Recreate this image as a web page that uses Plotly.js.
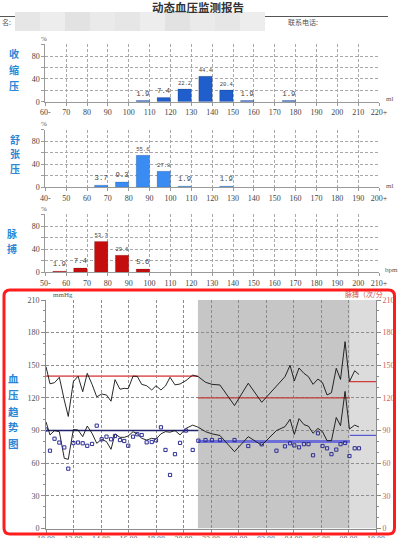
<!DOCTYPE html>
<html><head><meta charset="utf-8">
<script src="https://cdn.plot.ly/plotly-3.0.1.min.js"></script>
<style>html,body{margin:0;padding:0;background:#fff;}#chart{width:399px;height:538px;}</style>
</head><body><div id="chart"></div>
<script>
// ---------- DATA ----------
const sysTickLabels = ["60-","70","80","90","100","110","120","130","140","150","160","170","180","190","200","210","220+"];
const sysBinStarts = [100,110,120,130,140,150,170];
const sysPercent = [1.9,7.4,22.2,44.4,20.4,1.9,1.9];

const diaTickLabels = ["40-","50","60","70","80","90","100","110","120","130","140","150","160","170","180","190","200+"];
const diaBinStarts = [60,70,80,90,100,120];
const diaPercent = [3.7,9.3,55.6,27.8,1.9,1.9];

const hrTickLabels = ["50-","60","70","80","90","100","110","120","130","140","150","160","170","180","190","200","210+"];
const hrBinStarts = [50,60,70,80,90];
const hrPercent = [1.9,7.4,53.7,29.6,5.6];

const timeTickLabels = ["10:00","12:00","14:00","16:00","18:00","20:00","22:00","00:00","02:00","04:00","06:00","08:00","10:00"];
const hoursFromStart = [0,0.29,0.62,0.97,1.33,1.62,1.99,2.33,2.67,3.0,3.35,3.69,4.05,4.4,4.73,5.02,5.38,5.69,5.98,6.33,6.64,6.96,7.32,7.69,8.0,8.36,8.69,9.02,9.38,9.75,10.18,10.67,11.08,11.6,12.07,12.65,13.71,14.71,15.69,16.76,17.38,17.75,18.06,18.4,18.76,19.09,19.42,19.78,20.11,20.44,20.76,21.11,21.42,21.75,22.07,22.45,22.76];
const systolic = [148.7,133,134,139,118,103,135,140,125.7,142.6,132.5,121,123.6,122.7,117,136.8,128,128.8,128.5,140,139.8,132.5,131.2,127.3,131.2,127.3,131,139,132,132.8,136,141,139.5,134.4,132.5,131.9,113,133.5,116,130.3,139.5,150,135.6,147.5,142.6,139.5,132.5,137.4,134,122.7,124.8,147.2,137,171.7,135,145,141.5];
const diastolic = [98,86,90,89,64.5,63.6,91,90.5,84.4,94.2,87.5,78.3,82,79.8,72.8,86.9,83.8,83.8,85,89,86.9,82.9,81.3,82.9,82,87,89,88.5,90,86,92,95,93,89,87,85.5,70.6,84.4,76.5,90,93.6,100.4,86.5,101,95.5,94,87.5,92,89,80.7,80.7,102,94.5,126,91.4,95,93.3];
const pulse = [91,71.5,82.5,79,74.5,55,78.5,79,78.3,76,77.7,94.5,82,84.4,82,85,81.3,80.4,76.1,84.4,86.6,85.9,79.2,79.5,81,93,72.2,49.2,68.3,78.7,90,72.2,80.7,81.3,81.3,81.3,81.3,75.8,77.4,71.5,75.5,78.3,76.4,74.6,77.5,77.5,67.3,87.5,75.8,73.7,68.3,72.5,77.5,78.6,66.6,73.7,73.7];

const limitStart = [0, 11.05, 22.1];
const limitEnd = [11.05, 22.1, 24];
const sysLimit = [140, 120, 135];
const diaLimit = [90, 80, 85.5];
const shadeStart = [11.05, 22.1];
const shadeEnd = [22.1, 24];

// ---------- LAYOUT HELPERS ----------
const W = 399, H = 538;
const px = x => x / W;
const py = y => 1 - y / H;
const SERIF = "Liberation Serif, serif";
const CJK = "Noto Sans CJK SC, sans-serif";
const gridCol = "#a8a8a8";

function histX(labels, lo) {
  return {
    range: [lo, lo + 160],
    tickvals: labels.map((_, i) => lo + 10 * i),
    ticktext: labels,
    showgrid: true, gridcolor: gridCol, griddash: "3px,2px", gridwidth: 1,
    showline: true, linecolor: "#9a9a9a", linewidth: 1,
    ticks: "outside", ticklen: 3, tickcolor: "#9a9a9a",
    tickfont: {family: SERIF, size: 8, color: "#444"},
    zeroline: false, fixedrange: true
  };
}
function histY() {
  return {
    range: [0, 100.6],
    tickvals: [0, 20, 40, 60, 80, 100],
    ticktext: ["0", "", "40", "", "80", ""],
    showgrid: true, gridcolor: gridCol, griddash: "3px,2px", gridwidth: 1,
    showline: true, linecolor: "#9a9a9a", linewidth: 1,
    ticks: "outside", ticklen: 3, tickcolor: "#9a9a9a",
    tickfont: {family: SERIF, size: 8, color: "#444"},
    zeroline: false, fixedrange: true
  };
}
function histTrace(starts, vals, color, xa, ya) {
  return {
    type: "bar", x: starts.map(s => s + 10), y: vals, width: 6.4, offset: -6.4,
    xaxis: xa, yaxis: ya,
    marker: {color: color, line: {color: "rgba(0,0,0,0.25)", width: 0.6}},
    text: vals.map(v => v.toFixed(1)), textposition: "outside", cliponaxis: false,
    textfont: {family: "Liberation Mono, monospace", size: 8, color: "#444"},
    hoverinfo: "skip", showlegend: false
  };
}

const traces = [
  histTrace(sysBinStarts, sysPercent, "#1f5ecb", "x", "y"),
  histTrace(diaBinStarts, diaPercent, "#3a8cf2", "x2", "y2"),
  histTrace(hrBinStarts, hrPercent, "#c60d0d", "x3", "y3")
];

// limit lines
const sysLimitColors = ["#e06a6a", "#c43a3a", "#d43a3a"];
const diaLimitColors = ["#22226e", "#6e6ed8", "#5a5ad2"];
const diaLimitWidths = [1.5, 3, 1.2];
for (let i = 0; i < limitStart.length; i++) {
  traces.push({type: "scatter", mode: "lines", x: [limitStart[i], limitEnd[i]], y: [sysLimit[i], sysLimit[i]],
    xaxis: "x4", yaxis: "y4", line: {color: sysLimitColors[i], width: i === 0 ? 1.6 : 1.2}, hoverinfo: "skip", showlegend: false});
  traces.push({type: "scatter", mode: "lines", x: [limitStart[i], limitEnd[i]], y: [diaLimit[i], diaLimit[i]],
    xaxis: "x4", yaxis: "y4", line: {color: diaLimitColors[i], width: diaLimitWidths[i]}, hoverinfo: "skip", showlegend: false});
}
traces.push({type: "scatter", mode: "lines", x: hoursFromStart, y: systolic, xaxis: "x4", yaxis: "y4",
  line: {color: "#111", width: 0.9}, hoverinfo: "skip", showlegend: false});
traces.push({type: "scatter", mode: "lines", x: hoursFromStart, y: diastolic, xaxis: "x4", yaxis: "y4",
  line: {color: "#111", width: 0.9}, hoverinfo: "skip", showlegend: false});
traces.push({type: "scatter", mode: "markers", x: hoursFromStart, y: pulse, xaxis: "x4", yaxis: "y5",
  marker: {symbol: "square-open", size: 3.2, color: "#2e2e94", line: {width: 1}}, hoverinfo: "skip", showlegend: false});

const shapes = [];
// header line and blurred name box
shapes.push({type: "line", xref: "paper", yref: "paper", x0: px(0), x1: px(388), y0: py(16.5), y1: py(16.5), line: {color: "#555", width: 1}});
const blurCols = ["#e6e6e6", "#ededed", "#e2e2e2", "#eaeaea"];
for (let i = 0; i < 10; i++) {
  shapes.push({type: "rect", xref: "paper", yref: "paper", x0: px(15 + i * 25), x1: px(40 + i * 25), y0: py(31), y1: py(12),
    fillcolor: blurCols[i % 4], line: {width: 0}});
}
// shaded sleep periods
const shadeCols = ["#c6c6c6", "#dcdcdc"];
for (let i = 0; i < shadeStart.length; i++) {
  shapes.push({type: "rect", xref: "x4", yref: "y4", x0: shadeStart[i], x1: shadeEnd[i], y0: 0, y1: 210,
    fillcolor: shadeCols[i], line: {width: 0}, layer: "below"});
}
// red rounded border
(function () {
  const L = 4, R = 394.5, T = 290, B = 534, r = 6;
  const P = (x, y) => px(x) + "," + py(y);
  const path = "M" + P(L + r, T) + " L" + P(R - r, T) + " Q" + P(R, T) + " " + P(R, T + r) +
    " L" + P(R, B - r) + " Q" + P(R, B) + " " + P(R - r, B) + " L" + P(L + r, B) + " Q" + P(L, B) + " " + P(L, B - r) +
    " L" + P(L, T + r) + " Q" + P(L, T) + " " + P(L + r, T) + " Z";
  shapes.push({type: "path", xref: "paper", yref: "paper", path: path, line: {color: "#ff1c1c", width: 3}});
})();

const ann = [];
function txt(x, y, t, opts) {
  ann.push(Object.assign({xref: "paper", yref: "paper", x: px(x), y: py(y), text: t, showarrow: false,
    xanchor: "center", yanchor: "middle", borderpad: 0, font: {family: SERIF, size: 8, color: "#444"}}, opts || {}));
}
txt(198, 7.5, "<b>动态血压监测报告</b>", {font: {family: CJK, size: 11.5, color: "#333"}});
txt(1, 21.5, "名:", {xanchor: "left", font: {family: CJK, size: 7, color: "#555"}});
txt(287, 22, "联系电话:", {xanchor: "left", font: {family: CJK, size: 7, color: "#555"}});
// % and units
txt(44, 39, "%", {font: {family: SERIF, size: 7, color: "#555"}});
txt(44, 124, "%", {font: {family: SERIF, size: 7, color: "#555"}});
txt(44, 209, "%", {font: {family: SERIF, size: 7, color: "#555"}});
txt(389, 99.5, "ml", {font: {family: SERIF, size: 7, color: "#555"}});
txt(389, 185.5, "ml", {font: {family: SERIF, size: 7, color: "#555"}});
txt(391, 270, "bpm", {font: {family: SERIF, size: 7, color: "#555"}});
txt(52, 294.5, "mmHg", {xanchor: "left", font: {family: SERIF, size: 7, color: "#555"}});
txt(384, 294, "脉搏（次/分", {xanchor: "right", font: {family: CJK, size: 7, color: "#d04848"}});
// side labels
const blue = "#2a86d6";
const side = (chars, x, ys, sz) => chars.split("").forEach((c, i) => txt(x, ys[i], "<b>" + c + "</b>", {font: {family: CJK, size: sz, color: blue}}));
side("收缩压", 13.5, [54, 69, 85], 10);
side("舒张压", 15, [140, 154, 168.5], 10);
side("脉搏", 12, [233, 248.5], 10);
side("血压趋势图", 13, [378, 394.5, 411, 427, 443], 10.5);

const layout = {
  width: W, height: H, margin: {l: 0, r: 0, t: 0, b: 0},
  paper_bgcolor: "#fff", plot_bgcolor: "rgba(0,0,0,0)", showlegend: false, bargap: 0,
  xaxis: Object.assign(histX(sysTickLabels, 60), {domain: [px(45.3), px(379)], anchor: "y"}),
  yaxis: Object.assign(histY(), {domain: [py(101.7), py(44.3)], anchor: "x"}),
  xaxis2: Object.assign(histX(diaTickLabels, 40), {domain: [px(45.3), px(379)], anchor: "y2"}),
  yaxis2: Object.assign(histY(), {domain: [py(187.3), py(129.5)], anchor: "x2"}),
  xaxis3: Object.assign(histX(hrTickLabels, 50), {domain: [px(45.3), px(379)], anchor: "y3"}),
  yaxis3: Object.assign(histY(), {domain: [py(272.3), py(214.4)], anchor: "x3"}),
  xaxis4: {domain: [px(46), px(376)], anchor: "y4", range: [0, 24],
    tickvals: timeTickLabels.map((_, i) => 2 * i), ticktext: timeTickLabels,
    showgrid: true, gridcolor: "#8c8c8c", griddash: "3px,2px", gridwidth: 1,
    showline: true, linecolor: "#8c8c8c", ticks: "outside", ticklen: 3, tickcolor: "#8c8c8c",
    tickfont: {family: SERIF, size: 8, color: "#555"}, zeroline: false, fixedrange: true},
  yaxis4: {domain: [py(528.5), py(300)], anchor: "x4", range: [0, 210],
    tickvals: [0, 30, 60, 90, 120, 150, 180, 210],
    showgrid: true, gridcolor: "#8c8c8c", griddash: "3px,2px", gridwidth: 1,
    showline: true, linecolor: "#8c8c8c", ticks: "outside", ticklen: 4, tickcolor: "#8c8c8c",
    minor: {dtick: 10, ticks: "outside", ticklen: 2, tickcolor: "#8c8c8c", showgrid: false},
    tickfont: {family: SERIF, size: 8, color: "#555"}, zeroline: false, fixedrange: true},
  yaxis5: {overlaying: "y4", side: "right", anchor: "x4", range: [0, 210],
    tickvals: [0, 30, 60, 90, 120, 150, 180, 210], showgrid: false,
    showline: true, linecolor: "#8c8c8c", ticks: "outside", ticklen: 4, tickcolor: "#8c8c8c",
    minor: {dtick: 10, ticks: "outside", ticklen: 2, tickcolor: "#8c8c8c", showgrid: false},
    tickfont: {family: SERIF, size: 8, color: "#d06060"}, zeroline: false, fixedrange: true},
  shapes: shapes, annotations: ann
};

Plotly.newPlot("chart", traces, layout, {displayModeBar: false, staticPlot: true});
</script></body></html>
